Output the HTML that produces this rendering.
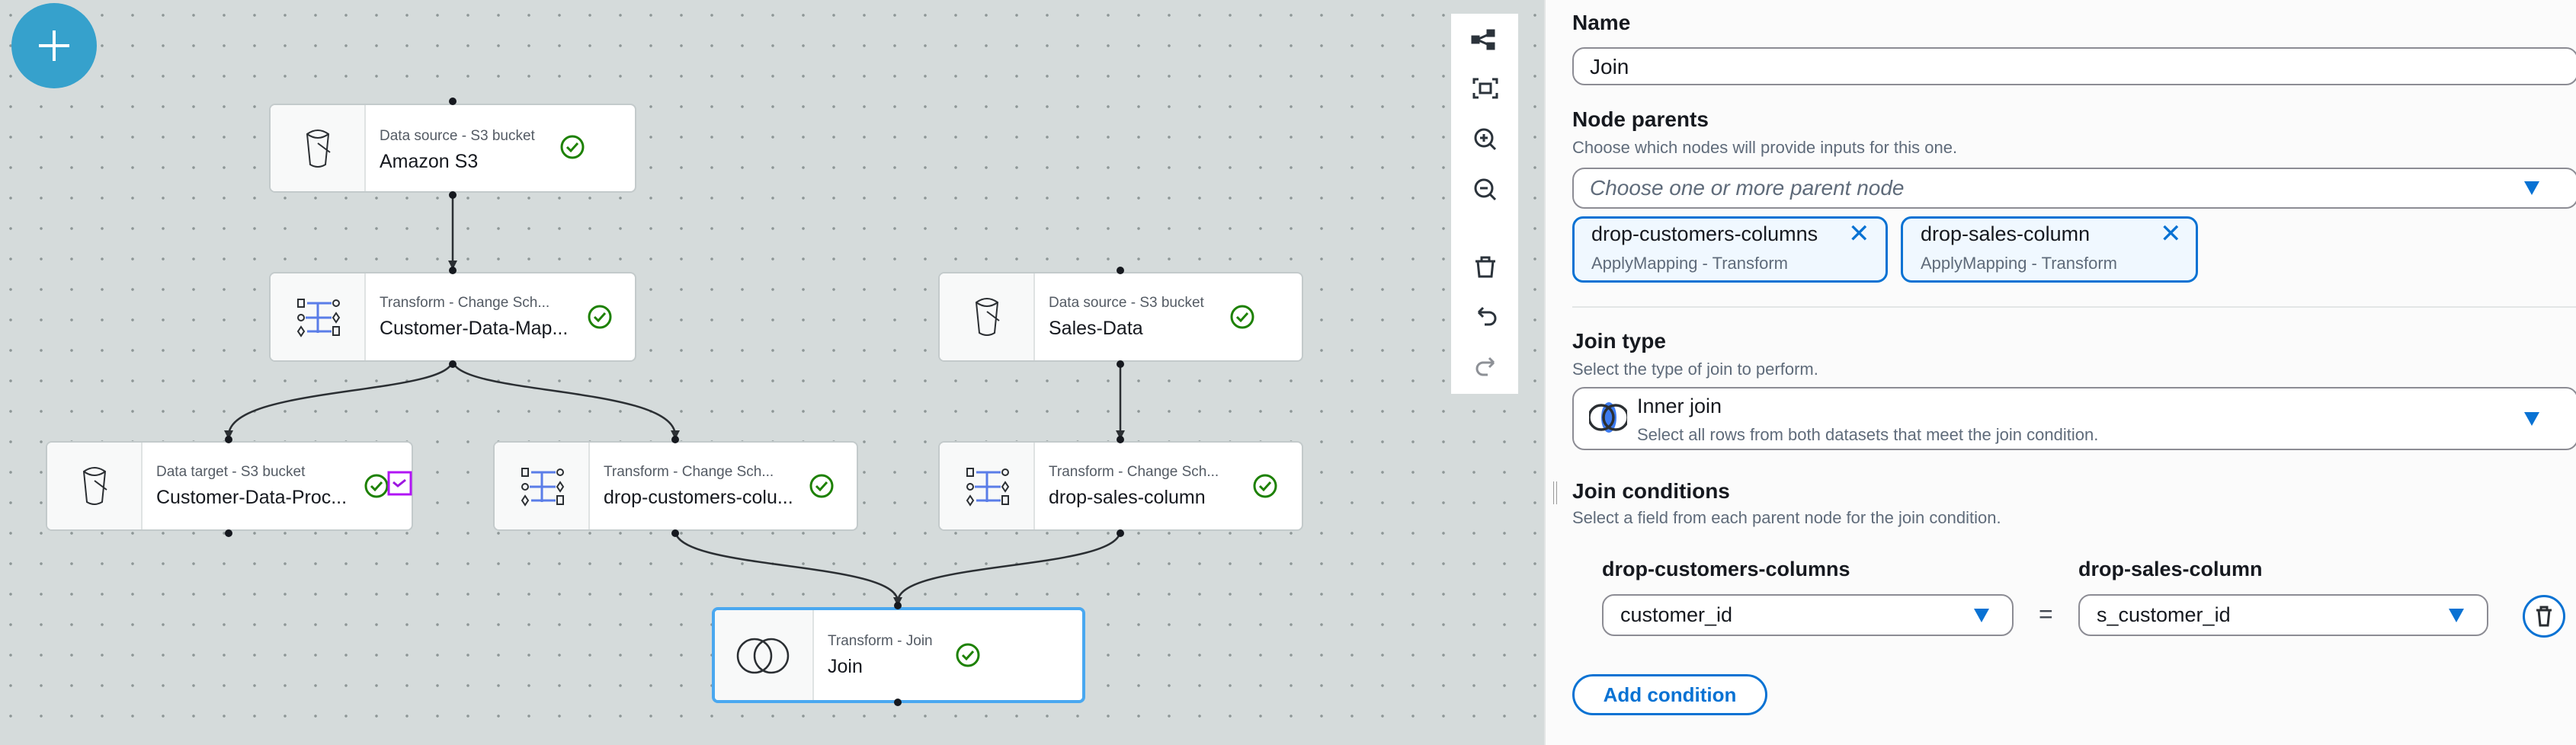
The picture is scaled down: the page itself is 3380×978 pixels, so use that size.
<!DOCTYPE html>
<html><head><meta charset="utf-8"><style>
*{box-sizing:border-box;margin:0;padding:0}
body{width:3380px;height:978px;overflow:hidden;font-family:"Liberation Sans",sans-serif;position:relative;background:#fbfbfb}
#canvas{position:absolute;left:0;top:0;width:2026px;height:978px;background-color:#d5dbdb;background-image:radial-gradient(circle,#8d9696 1.6px,transparent 2px);background-size:40px 40px;background-position:-6px 0px}
.a{position:absolute}
.node{position:absolute;background:#fff;border:2px solid #c3cacb;border-radius:8px;height:118px;overflow:hidden}
.node .ic{position:absolute;left:0;top:0;bottom:0;width:125px;background:#f8f9f9;border-right:2px solid #dfe3e3}
.node .lb{position:absolute;left:143px;top:28px;font-size:19px;color:#545b64;white-space:nowrap}
.node .nm{position:absolute;left:143px;top:58px;font-size:25px;color:#16191f;white-space:nowrap}
.p{position:absolute;white-space:nowrap;color:#16191f}
.h{font-size:28px;font-weight:bold}
.s{font-size:22px;color:#5f6b7a}
.box{position:absolute;border:2px solid #8c8c94;border-radius:16px;background:#fff}
.tri{position:absolute;width:0;height:0;border-left:10px solid transparent;border-right:10px solid transparent;border-top:18px solid #0972d3}
.tag{position:absolute;border:3px solid #0972d3;border-radius:14px;background:#f0f8ff;height:87px}
</style></head><body>
<div id="canvas"></div>
<div class="a" style="left:15px;top:4px;width:112px;height:112px;border-radius:50%;background:#36a1cc"></div>
<div class="a" style="left:69px;top:40px;width:4px;height:40px;background:#fff"></div>
<div class="a" style="left:51px;top:58px;width:40px;height:4px;background:#fff"></div>

<svg class="a" style="left:0;top:0" width="2026" height="978">
<g fill="none" stroke="#2b2f33" stroke-width="2.5">
<path d="M594 252 L594 350"/>
<path d="M594 472 C594 520 300 505 300 572"/>
<path d="M594 472 C594 520 886 505 886 572"/>
<path d="M1470 472 L1470 572"/>
<path d="M886 696 C886 750 1178 735 1178 790"/>
<path d="M1470 696 C1470 750 1178 735 1178 790"/>
</g>
<g fill="#2b2f33">
<path d="M588 342 L600 342 L594 354Z"/>
<path d="M294 565 L306 565 L300 577Z"/>
<path d="M880 565 L892 565 L886 577Z"/>
<path d="M1464 565 L1476 565 L1470 577Z"/>
<path d="M1172 784 L1184 784 L1178 796Z"/>
</g>
</svg>

<div class="node" style="left:353px;top:136px;width:482px;height:117px"><div class="ic"><svg width="125" height="115"><path d="M48 38 Q62 28 76 38 L72 78 Q62 84 52 78 Z M48 38 Q62 48 76 38" fill="none" stroke="#2b2f33" stroke-width="2"/><path d="M62 50 L78 62" stroke="#2b2f33" stroke-width="2"/></svg></div><div class="lb" style="top:30px">Data source - S3 bucket</div><div class="nm" style="top:60px">Amazon S3</div></div>
<div class="node" style="left:353px;top:357px;width:482px"><div class="ic"><svg width="125" height="115"><g fill="none" stroke="#2b2f33" stroke-width="2"><rect x="36" y="34" width="8" height="10"/><circle cx="40" cy="58" r="4"/><path d="M40 70 l4 6 -4 6 -4 -6z"/><circle cx="86" cy="39" r="4"/><path d="M86 52 l4 6 -4 6 -4 -6z"/><rect x="82" y="70" width="8" height="11"/></g><g stroke="#5a7de8" stroke-width="3"><path d="M62 38 V78 M48 39 H80 M46 58 H80 M48 76 H80"/></g></svg></div><div class="lb">Transform - Change Sch...</div><div class="nm">Customer-Data-Map...</div></div>
<div class="node" style="left:1231px;top:357px;width:479px"><div class="ic"><svg width="125" height="115"><path d="M48 38 Q62 28 76 38 L72 78 Q62 84 52 78 Z M48 38 Q62 48 76 38" fill="none" stroke="#2b2f33" stroke-width="2"/><path d="M62 50 L78 62" stroke="#2b2f33" stroke-width="2"/></svg></div><div class="lb">Data source - S3 bucket</div><div class="nm">Sales-Data</div></div>
<div class="node" style="left:60px;top:579px;width:482px"><div class="ic"><svg width="125" height="115"><path d="M48 38 Q62 28 76 38 L72 78 Q62 84 52 78 Z M48 38 Q62 48 76 38" fill="none" stroke="#2b2f33" stroke-width="2"/><path d="M62 50 L78 62" stroke="#2b2f33" stroke-width="2"/></svg></div><div class="lb">Data target - S3 bucket</div><div class="nm">Customer-Data-Proc...</div></div>
<div class="node" style="left:647px;top:579px;width:479px"><div class="ic"><svg width="125" height="115"><g fill="none" stroke="#2b2f33" stroke-width="2"><rect x="36" y="34" width="8" height="10"/><circle cx="40" cy="58" r="4"/><path d="M40 70 l4 6 -4 6 -4 -6z"/><circle cx="86" cy="39" r="4"/><path d="M86 52 l4 6 -4 6 -4 -6z"/><rect x="82" y="70" width="8" height="11"/></g><g stroke="#5a7de8" stroke-width="3"><path d="M62 38 V78 M48 39 H80 M46 58 H80 M48 76 H80"/></g></svg></div><div class="lb">Transform - Change Sch...</div><div class="nm">drop-customers-colu...</div></div>
<div class="node" style="left:1231px;top:579px;width:479px"><div class="ic"><svg width="125" height="115"><g fill="none" stroke="#2b2f33" stroke-width="2"><rect x="36" y="34" width="8" height="10"/><circle cx="40" cy="58" r="4"/><path d="M40 70 l4 6 -4 6 -4 -6z"/><circle cx="86" cy="39" r="4"/><path d="M86 52 l4 6 -4 6 -4 -6z"/><rect x="82" y="70" width="8" height="11"/></g><g stroke="#5a7de8" stroke-width="3"><path d="M62 38 V78 M48 39 H80 M46 58 H80 M48 76 H80"/></g></svg></div><div class="lb">Transform - Change Sch...</div><div class="nm">drop-sales-column</div></div>
<div class="node" style="left:934px;top:797px;width:490px;height:126px;border:4px solid #4aa8f0"><div class="ic" style="width:130px"><svg width="130" height="120"><circle cx="52" cy="60" r="22" fill="none" stroke="#2b2f33" stroke-width="2.5"/><circle cx="74" cy="60" r="22" fill="none" stroke="#2b2f33" stroke-width="2.5"/></svg></div><div class="lb" style="left:148px;top:30px">Transform - Join</div><div class="nm" style="left:148px;top:60px">Join</div></div>

<svg class="a" style="left:0;top:0" width="2026" height="978"><g fill="none" stroke="#1d8102" stroke-width="3">
<circle cx="751" cy="193" r="14"/><path d="M744 193 l5 5 9 -10"/>
<circle cx="787" cy="416" r="14"/><path d="M780 416 l5 5 9 -10"/>
<circle cx="1630" cy="416" r="14"/><path d="M1623 416 l5 5 9 -10"/>
<circle cx="494" cy="638" r="14"/><path d="M487 638 l5 5 9 -10"/>
<circle cx="1078" cy="638" r="14"/><path d="M1071 638 l5 5 9 -10"/>
<circle cx="1660" cy="638" r="14"/><path d="M1653 638 l5 5 9 -10"/>
<circle cx="1270" cy="860" r="14"/><path d="M1263 860 l5 5 9 -10"/>
</g>
<rect x="510" y="620" width="29" height="29" fill="#fff" stroke="#b114f5" stroke-width="3"/><path d="M516 633 l6 5 10 -8" fill="none" stroke="#9d17e0" stroke-width="3"/>
<g fill="#16191f">
<circle cx="594" cy="133" r="5"/><circle cx="594" cy="256" r="5"/><circle cx="594" cy="355" r="5"/><circle cx="594" cy="478" r="5"/>
<circle cx="1470" cy="355" r="5"/><circle cx="1470" cy="478" r="5"/>
<circle cx="300" cy="577" r="5"/><circle cx="300" cy="700" r="5"/>
<circle cx="886" cy="577" r="5"/><circle cx="886" cy="700" r="5"/>
<circle cx="1470" cy="577" r="5"/><circle cx="1470" cy="700" r="5"/>
<circle cx="1178" cy="795" r="5"/><circle cx="1178" cy="922" r="5"/>
</g></svg>

<div class="a" style="left:1904px;top:18px;width:88px;height:499px;background:#fff"></div>
<svg class="a" style="left:1904px;top:18px" width="88" height="499"><g fill="none" stroke="#2b333b" stroke-width="3">
<path d="M34 34 L52 26 M34 34 L52 42"/><rect x="28" y="30" width="8" height="8" fill="#2b333b"/><rect x="48" y="22" width="8" height="7" fill="#2b333b"/><rect x="48" y="39" width="8" height="7" fill="#2b333b"/>
<path d="M30 92 v-6 h6 M60 92 v-6 h-6 M30 104 v6 h6 M60 104 v6 h-6"/><rect x="38" y="92" width="14" height="12"/>
<circle cx="43" cy="163" r="11"/><path d="M51 171 l7 7 M38 163 h10 M43 158 v10"/>
<circle cx="43" cy="229" r="11"/><path d="M51 237 l7 7 M38 229 h10"/>
<path d="M32 325 h26 M40 325 v-5 h10 v5 M35 325 l2 20 h16 l2 -20"/>
<path d="M36 392 h14 a8 8 0 0 1 0 16 h-6 M36 392 l6 -6 M36 392 l6 6"/>
</g><path d="M56 458 h-14 a8 8 0 0 0 0 16 h6 M56 458 l-6 -6 M56 458 l-6 6" fill="none" stroke="#8d9096" stroke-width="3"/></svg>

<div class="a" style="left:2026px;top:0;width:1354px;height:978px;background:#fbfbfb;border-left:2px solid #e3e6e6"></div>
<div class="p h" style="left:2063px;top:14px">Name</div>
<div class="box" style="left:2063px;top:62px;width:1320px;height:50px"></div>
<div class="p" style="left:2086px;top:72px;font-size:28px">Join</div>
<div class="p h" style="left:2063px;top:141px">Node parents</div>
<div class="p s" style="left:2063px;top:181px">Choose which nodes will provide inputs for this one.</div>
<div class="box" style="left:2063px;top:220px;width:1320px;height:54px"></div>
<div class="p" style="left:2086px;top:231px;font-size:28px;font-style:italic;color:#5f6b7a">Choose one or more parent node</div>
<div class="tri" style="left:3312px;top:238px"></div>
<div class="tag" style="left:2063px;top:284px;width:414px"></div>
<div class="p" style="left:2088px;top:292px;font-size:27px">drop-customers-columns</div>
<div class="p s" style="left:2088px;top:333px">ApplyMapping - Transform</div>
<div class="p" style="left:2425px;top:287px;font-size:34px;color:#0972d3">✕</div>
<div class="tag" style="left:2494px;top:284px;width:390px"></div>
<div class="p" style="left:2520px;top:292px;font-size:27px">drop-sales-column</div>
<div class="p s" style="left:2520px;top:333px">ApplyMapping - Transform</div>
<div class="p" style="left:2834px;top:287px;font-size:34px;color:#0972d3">✕</div>
<div class="a" style="left:2063px;top:402px;width:1320px;height:2px;background:#e3e6e6"></div>
<div class="p h" style="left:2063px;top:432px">Join type</div>
<div class="p s" style="left:2063px;top:472px">Select the type of join to perform.</div>
<div class="box" style="left:2063px;top:508px;width:1320px;height:83px"></div>
<svg class="a" style="left:2085px;top:520px" width="50" height="56"><ellipse cx="26" cy="28" rx="10" ry="20" fill="#3d7bf0"/><circle cx="16" cy="28" r="16" fill="none" stroke="#2b2f33" stroke-width="3.5"/><circle cx="35" cy="28" r="16" fill="none" stroke="#2b2f33" stroke-width="3.5"/></svg>
<div class="p" style="left:2148px;top:518px;font-size:27px">Inner join</div>
<div class="p s" style="left:2148px;top:558px">Select all rows from both datasets that meet the join condition.</div>
<div class="tri" style="left:3312px;top:541px"></div>
<div class="a" style="left:2038px;top:632px;width:5px;height:30px;border-left:1.5px solid #999;border-right:1.5px solid #999"></div>
<div class="p h" style="left:2063px;top:629px">Join conditions</div>
<div class="p s" style="left:2063px;top:667px">Select a field from each parent node for the join condition.</div>
<div class="p h" style="left:2102px;top:732px;font-size:27px">drop-customers-columns</div>
<div class="p h" style="left:2727px;top:732px;font-size:27px">drop-sales-column</div>
<div class="box" style="left:2102px;top:780px;width:540px;height:55px"></div>
<div class="p" style="left:2126px;top:792px;font-size:27px">customer_id</div>
<div class="tri" style="left:2590px;top:799px"></div>
<div class="p" style="left:2675px;top:788px;font-size:32px;color:#414750">=</div>
<div class="box" style="left:2727px;top:780px;width:538px;height:55px"></div>
<div class="p" style="left:2751px;top:792px;font-size:27px">s_customer_id</div>
<div class="tri" style="left:3213px;top:799px"></div>
<div class="a" style="left:3310px;top:781px;width:56px;height:56px;border:3px solid #0972d3;border-radius:50%;background:#fff"></div>
<svg class="a" style="left:3310px;top:781px" width="56" height="56"><path d="M18 20 h20 M24 20 v-4 h8 v4 M21 20 l2 20 h10 l2 -20" fill="none" stroke="#2b2f33" stroke-width="3"/></svg>
<div class="a" style="left:2063px;top:885px;width:256px;height:54px;border:3px solid #0972d3;border-radius:27px;background:#fff"></div>
<div class="p" style="left:2063px;top:897px;width:256px;text-align:center;font-size:26px;font-weight:bold;color:#0972d3">Add condition</div>
</body></html>
